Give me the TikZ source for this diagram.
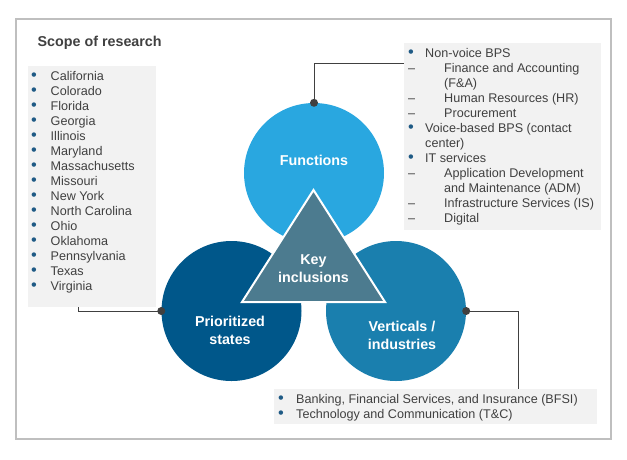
\documentclass[tikz,border=0pt]{standalone}
\usepackage{fontspec}
\setmainfont{Liberation Sans}
\usepackage{xcolor}
\usepackage{graphicx}
\usepackage{tikz}

\definecolor{txtgray}{HTML}{404040}
\definecolor{boxgray}{HTML}{F2F2F2}
\definecolor{framegray}{HTML}{BFBFBF}
\definecolor{bulblue}{HTML}{1F5A85}
\definecolor{funcblue}{HTML}{29A7E0}
\definecolor{stateblue}{HTML}{00578A}
\definecolor{vertblue}{HTML}{1A7FAE}
\definecolor{keyslate}{HTML}{4C7B8F}

\newcommand{\bul}[1]{\makebox[#1][l]{\textcolor{bulblue}{\raisebox{0.3pt}{\scalebox{1.3}{•}}}}}
\newcommand{\dsh}{\makebox[36pt][l]{–}}

\tikzset{
	listbox/.style={shape=rectangle, fill=boxgray, inner sep=0, anchor=north west},
	item/.style={anchor=base west, inner sep=0, text=txtgray, font=\fontsize{12.6}{15}\selectfont},
	ring/.style={shape=circle, inner sep=0, minimum size=140pt},
	ringlabel/.style={align=center, text=white, font=\fontsize{14.3}{18}\selectfont\bfseries},
	wire/.style={draw=txtgray, line width=0.9pt},
	pin/.style={shape=circle, fill=txtgray, inner sep=0, minimum size=8pt}
}

\begin{document}
\begin{tikzpicture}[x=1pt, y=-1pt]
	\useasboundingbox (0, 0) rectangle (627, 459);
	% Frame and title:
	\draw[draw=framegray, line width=1.5pt] (16, 19) rectangle (611, 439);
	\node[anchor=base west, inner sep=0, text=txtgray, font=\fontsize{14.3}{17}\selectfont\bfseries] (Title) at (37.5, 46) {Scope of research};
	% List boxes:
	\node[listbox, minimum width=128pt, minimum height=241pt] (Rect1) at (28, 66) {};
	\node[listbox, minimum width=197pt, minimum height=187pt] (Rect2) at (404, 43) {};
	\node[listbox, minimum width=323pt, minimum height=35pt] (Rect3) at (274, 389) {};
	% States:
	\foreach \s [count=\i from 0] in {California, Colorado, Florida, Georgia, Illinois, Maryland, Massachusetts, Missouri, New York, North Carolina, Ohio, Oklahoma, Pennsylvania, Texas, Virginia}
		\node[item] (S\i) at (31, {80.7+15*\i}) {\bul{19.5pt}\s};
	% Functions:
	\foreach \s [count=\i from 0] in {{\bul{17pt}Non-voice BPS}, {\dsh Finance and Accounting}, {\hspace*{36pt}(F\&A)}, {\dsh Human Resources (HR)}, {\dsh Procurement}, {\bul{17pt}Voice-based BPS (contact}, {\hspace*{17pt}center)}, {\bul{17pt}IT services}, {\dsh Application Development}, {\hspace*{36pt}and Maintenance (ADM)}, {\dsh Infrastructure Services (IS)}, {\dsh Digital}}
		\node[item] (F\i) at (408, {57.7+15*\i}) {\s};
	% Verticals:
	\foreach \s [count=\i from 0] in {{Banking, Financial Services, and Insurance (BFSI)}, {Technology and Communication (T\&C)}}
		\node[item] (V\i) at (278, {403.7+15*\i}) {\bul{18pt}\s};
	% Circles and triangle:
	\node[ring, fill=funcblue] (N1) at (314, 173) {};
	\node[ring, fill=stateblue] (N2) at (231.5, 311) {};
	\node[ring, fill=vertblue] (N3) at (396, 311) {};
	\draw[fill=keyslate, draw=white, line width=2pt] (313.5, 190) -- (242, 302) -- (385, 302) -- cycle;
	\node[ringlabel] (L1) at (314, 160) {Functions};
	\node[ringlabel] (L2) at (230, 330) {Prioritized\\states};
	\node[ringlabel] (L3) at (402, 335) {Verticals /\\industries};
	\node[ringlabel] (L4) at (313.5, 269) {Key\\inclusions};
	% Connectors:
	\node[pin] (P1) at (N1.north) {};
	\node[pin] (P2) at (N2.west) {};
	\node[pin] (P3) at (N3.east) {};
	\draw[wire] (P1.center) |- (Rect2.west |- 0, 63);
	\draw[wire] (P2.center) -| (Rect1.south -| 78, 0);
	\draw[wire] (P3.center) -| (Rect3.north -| 518, 0);
\end{tikzpicture}
\end{document}
